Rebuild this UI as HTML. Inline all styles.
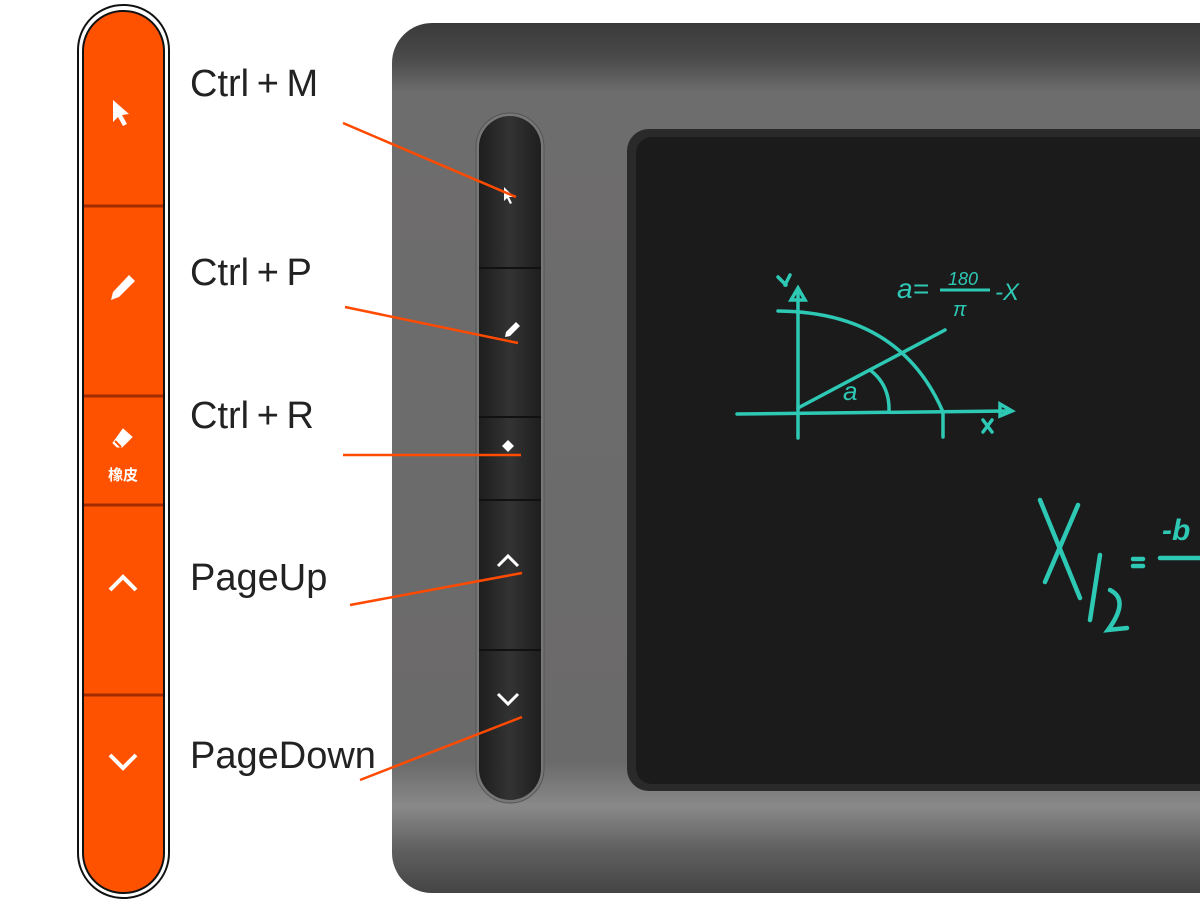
<!DOCTYPE html>
<html><head><meta charset="utf-8"><style>
body{margin:0;width:1200px;height:900px;background:#fff;overflow:hidden;position:relative;font-family:"Liberation Sans","Noto Sans CJK SC",sans-serif}
.lbl{position:absolute;left:190px;font-size:38px;color:#222;line-height:1}
</style></head><body>
<svg width="1200" height="900" style="position:absolute;left:0;top:0">
<defs>
<linearGradient id="dev" x1="0" y1="0" x2="0" y2="1">
<stop offset="0" stop-color="#3a3a3a"/><stop offset="0.04" stop-color="#4a4a4a"/><stop offset="0.08" stop-color="#6e6d6d"/><stop offset="0.85" stop-color="#6b6a6a"/><stop offset="0.9" stop-color="#8a8989"/><stop offset="0.95" stop-color="#606060"/><stop offset="1" stop-color="#444"/>
</linearGradient>
<linearGradient id="btn" x1="0" y1="0" x2="1" y2="0">
<stop offset="0" stop-color="#1e1e1e"/><stop offset="0.5" stop-color="#333"/><stop offset="1" stop-color="#1e1e1e"/>
</linearGradient>
</defs>
<rect x="78" y="5" width="91" height="893" rx="45" fill="#fff" stroke="#111" stroke-width="2"/>
<rect x="83" y="11" width="81" height="882" rx="40" fill="#ff5200" stroke="#111" stroke-width="2"/>
<g stroke="#a02c00" stroke-width="3">
<line x1="84" y1="206" x2="163" y2="206"/><line x1="84" y1="396" x2="163" y2="396"/><line x1="84" y1="505" x2="163" y2="505"/><line x1="84" y1="695" x2="163" y2="695"/>
</g>
<g fill="#fff">
<path d="M113 100 L113 122 L118 117 L123 126 L127 124 L122 115 L129 114 Z"/>
<path d="M129 275 L135 281 L119 297 L111 300 L113 292 Z"/>
<path d="M123 429 L132 437 L122 447 L117 447 L113 443 Z" stroke="#fff" stroke-width="1"/>
</g>
<path d="M115 441 L121 447" stroke="#ff5200" stroke-width="2"/>
<text x="123" y="480" font-size="15" font-weight="bold" fill="#fff" text-anchor="middle" font-family="Noto Sans CJK SC, sans-serif">橡皮</text>
<polyline points="110,590 123,577 136,590" fill="none" stroke="#fff" stroke-width="4"/>
<polyline points="110,755 123,768 136,755" fill="none" stroke="#fff" stroke-width="4"/>
<rect x="392" y="23" width="900" height="870" rx="40" fill="url(#dev)"/>
<rect x="476" y="113" width="68" height="690" rx="34" fill="#777" stroke="#555"/>
<rect x="479" y="116" width="62" height="684" rx="31" fill="url(#btn)"/>
<g stroke="#111" stroke-width="2">
<line x1="479" y1="268" x2="541" y2="268"/><line x1="479" y1="417" x2="541" y2="417"/><line x1="479" y1="500" x2="541" y2="500"/><line x1="479" y1="650" x2="541" y2="650"/>
</g>
<g fill="#fff">
<path d="M504 187 L504 201 L507 198 L510 204 L512 203 L509 197 L514 197 Z"/>
<path d="M516 322 L520 326 L510 336 L505 337 L506 332 Z"/>
<path d="M508 440 L514 446 L508 452 L502 446 Z"/>
</g>
<polyline points="498,566 508,556 518,566" fill="none" stroke="#fff" stroke-width="3"/>
<polyline points="498,694 508,704 518,694" fill="none" stroke="#fff" stroke-width="3"/>
<rect x="627" y="129" width="600" height="662" rx="22" fill="#2a2a2a"/>
<rect x="636" y="137" width="590" height="647" rx="16" fill="#1b1b1b"/>
<g stroke="#2ec9b5" stroke-width="3.5" fill="none" stroke-linecap="round">
<line x1="798" y1="292" x2="798" y2="438"/>
<path d="M791 300 L798 288 L805 300 Z"/>
<line x1="737" y1="414" x2="1008" y2="411"/>
<path d="M1000 404 L1012 411 L1000 416 Z"/>
<path d="M778 311 Q900 312 943 412 L943 437"/>
<line x1="798" y1="408" x2="945" y2="330"/>
<path d="M870 370 Q890 385 889 412"/>
<path d="M785 285 L790 275 M778 277 L786 285"/>
<path d="M983 420 L992 432 M992 420 L983 432"/>
</g>
<g stroke="#2ec9b5" stroke-width="4.5" fill="none" stroke-linecap="round">
<path d="M1040 500 L1080 598 M1078 505 L1045 582"/>
<path d="M1100 555 L1090 620 M1110 590 Q1130 600 1108 630 L1127 628"/>
<path d="M1133 559 L1143 559 M1133 566 L1143 566"/>
<path d="M1160 558 L1200 558"/>
</g>
<g fill="#2ec9b5" font-family="Liberation Sans,sans-serif" font-style="italic">
<text x="897" y="298" font-size="28">a=</text>
<text x="948" y="285" font-size="18">180</text>
<text x="953" y="316" font-size="20">π</text>
<text x="995" y="300" font-size="24">-X</text>
<text x="843" y="400" font-size="26">a</text>
<text x="1162" y="540" font-size="30" font-weight="bold">-b</text>
</g>
<line x1="940" y1="290" x2="990" y2="290" stroke="#2ec9b5" stroke-width="3"/>
<g stroke="#ff4a00" stroke-width="2.5">
<line x1="343" y1="123" x2="516" y2="197"/>
<line x1="345" y1="307" x2="518" y2="343"/>
<line x1="343" y1="455" x2="521" y2="455"/>
<line x1="350" y1="605" x2="522" y2="573"/>
<line x1="360" y1="780" x2="522" y2="717"/>
</g>
</svg>
<div class="lbl" style="top:65px">Ctrl&#8201;+&#8201;M</div>
<div class="lbl" style="top:254px">Ctrl&#8201;+&#8201;P</div>
<div class="lbl" style="top:397px">Ctrl&#8201;+&#8201;R</div>
<div class="lbl" style="top:559px">PageUp</div>
<div class="lbl" style="top:737px">PageDown</div>
</body></html>
